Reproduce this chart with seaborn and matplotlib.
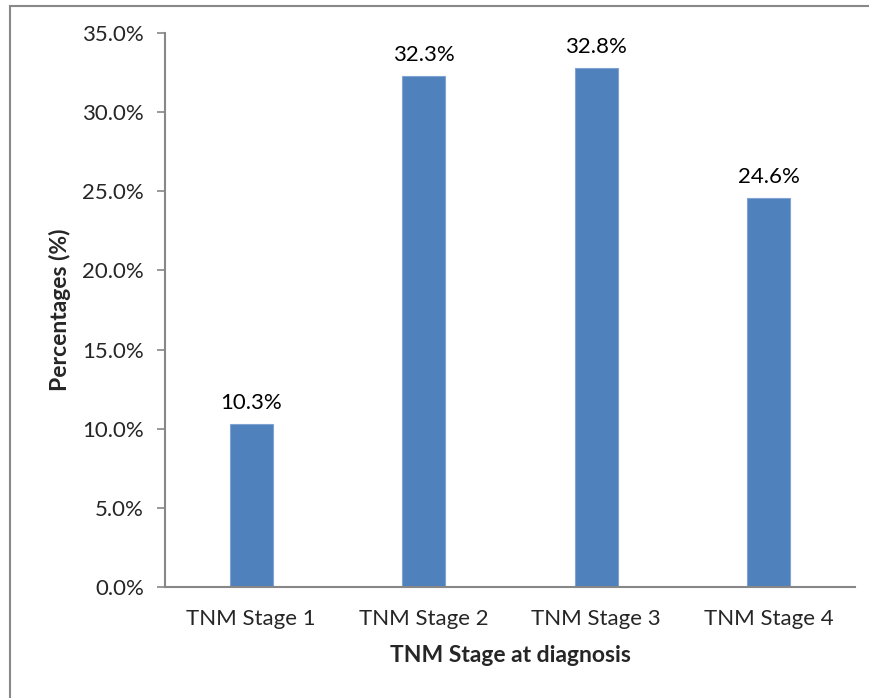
import matplotlib
matplotlib.use("Agg")
import matplotlib.pyplot as plt
import matplotlib.patches as mpatches
from matplotlib.ticker import FuncFormatter, MultipleLocator
import seaborn as sns
import pandas as pd

stages = ["TNM Stage 1", "TNM Stage 2", "TNM Stage 3", "TNM Stage 4"]
percentages = [10.3, 32.3, 32.8, 24.6]

sns.set_style("white")
plt.rcParams["font.family"] = ["Lato", "DejaVu Sans"]

df = pd.DataFrame({"stage": stages, "pct": percentages})

W, H = 870, 698
FS = 16
FS_LABEL = 16.5
fig = plt.figure(figsize=(W / 100, H / 100), dpi=100)
ax = fig.add_axes([165 / W, 1 - 587 / H, (855 - 165) / W, (587 - 33) / H])

sns.barplot(data=df, x="stage", y="pct", color="#4F81BD", width=0.25,
            saturation=1, edgecolor="#7FA3D3", linewidth=0.8, ax=ax)

ax.set_ylim(0, 35)
ax.set_xlim(-0.5, 3.5)
ax.yaxis.set_major_locator(MultipleLocator(5))
ax.yaxis.set_major_formatter(FuncFormatter(lambda v, _: f"{v:.1f}%"))

for i, v in enumerate(percentages):
    ax.annotate(f"{v:.1f}%", (i, v), xytext=(0, 8), textcoords="offset points",
                ha="center", va="bottom", fontsize=FS, color="black")

for s in ["top", "right"]:
    ax.spines[s].set_visible(False)
for s in ["left", "bottom"]:
    ax.spines[s].set_color("#878787")
    ax.spines[s].set_linewidth(1.5)

ax.tick_params(axis="y", direction="out", length=6, width=1.2, color="#878787",
               labelsize=FS, pad=9, left=True)
ax.tick_params(axis="x", length=0, labelsize=FS, pad=16)

ax.set_xlabel("TNM Stage at diagnosis", fontsize=FS_LABEL, fontweight="bold", labelpad=11)
ax.set_ylabel("Percentages (%)", fontsize=FS_LABEL, fontweight="bold", labelpad=8)

# outer chart frame
fig.patches.append(mpatches.Rectangle((10 / W, -0.05), 1.1, 1.05 - 6 / H,
                                      transform=fig.transFigure, fill=False,
                                      edgecolor="#888888", linewidth=1.5))

fig.savefig("out.png", dpi=100)
